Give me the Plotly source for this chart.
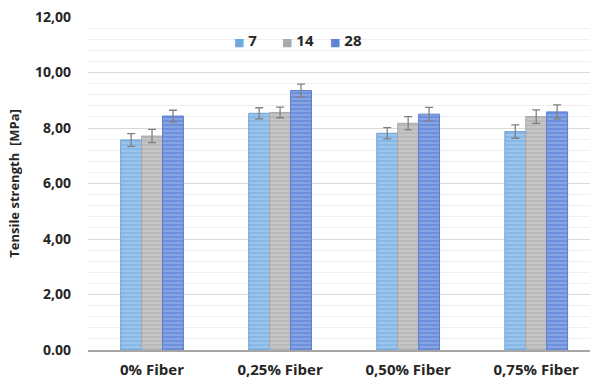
import plotly.graph_objects as go

categories = ["0% Fiber", "0,25% Fiber", "0,50% Fiber", "0,75% Fiber"]
series_names = ["7", "14", "28"]
values_7 = [7.57, 8.53, 7.81, 7.87]
values_14 = [7.71, 8.56, 8.17, 8.41]
values_28 = [8.43, 9.35, 8.50, 8.58]
err_7 = [0.23, 0.20, 0.20, 0.24]
err_14 = [0.24, 0.19, 0.24, 0.24]
err_28 = [0.21, 0.23, 0.24, 0.25]
tick_vals = [0, 2, 4, 6, 8, 10, 12]
tick_text = ["0.00", "2,00", "4,00", "6,00", "8,00", "10,00", "12,00"]

colors = ["#86b7e6", "#b9b9bb", "#6d90dc"]
edges = ["#6fa2d8", "#a8a8aa", "#5b7ed0"]
legend_colors = ["#6fa9de", "#a9a9ab", "#5f84d6"]

fig = go.Figure()
for name, vals, errs, col, edge in zip(series_names, [values_7, values_14, values_28],
                                       [err_7, err_14, err_28], colors, edges):
    fig.add_trace(go.Bar(
        x=categories, y=vals, name=name,
        marker=dict(color=col, line=dict(color=edge, width=1),
                    pattern=dict(shape="-", size=4, solidity=0.25,
                                 fgcolor="#ffffff", fgopacity=0.35)),
        error_y=dict(type="data", array=errs, color="#808080", thickness=1.3, width=4),
    ))

# compact legend row: coloured square key followed by the series name
legend_x0, legend_step, legend_y = 0.286, 0.096, 0.931
for i, (name, col) in enumerate(zip(series_names, legend_colors)):
    fig.add_annotation(
        xref="paper", yref="paper", x=legend_x0 + i * legend_step, y=legend_y,
        xanchor="left", yanchor="middle", showarrow=False,
        text=f'<span style="color:{col};font-size:11px">■</span> {name}',
        font=dict(size=15, weight="bold", color="#262626"),
    )

font_family = "Open Sans, DejaVu Sans, sans-serif"
fig.update_layout(
    width=590, height=382,
    margin=dict(l=88, r=0, t=17, b=32),
    paper_bgcolor="white", plot_bgcolor="white",
    barmode="group", bargap=0.51, bargroupgap=0,
    font=dict(family=font_family, size=13, color="#262626", weight="bold"),
    showlegend=False,
    xaxis=dict(range=[-0.5, 3.42], showgrid=False, showline=True,
               linecolor="#a6a6a6", linewidth=1.5, ticks="",
               tickfont=dict(size=15, weight="bold"), ticklabelstandoff=5),
    yaxis=dict(range=[0, 12], tickvals=tick_vals, ticktext=tick_text,
               showgrid=True, gridcolor="#d9d9d9", gridwidth=1,
               zeroline=False, showline=False, ticks="",
               tickfont=dict(size=14, weight="bold"), ticklabelstandoff=16,
               minor=dict(dtick=0.4, showgrid=True, gridcolor="#efefef", gridwidth=1),
               title=dict(text="Tensile strength  [MPa]", standoff=12,
                          font=dict(size=13, weight="bold"))),
)

fig.write_html("out.html")
